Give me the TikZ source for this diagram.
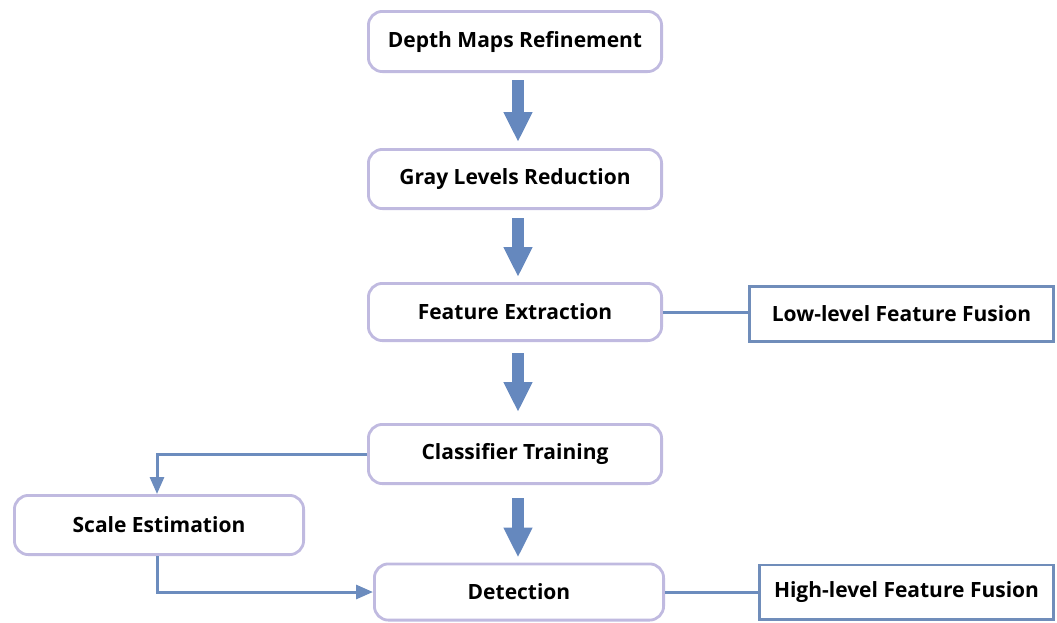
\documentclass[tikz,border=0pt]{standalone}
\usepackage{fontspec}
\setmainfont{Open Sans}
\usetikzlibrary{arrows.meta}

\definecolor{flowblue}{RGB}{101,136,190}
\definecolor{linkblue}{RGB}{108,140,190}
\definecolor{boxlav}{RGB}{192,186,224}
\definecolor{fusionblue}{RGB}{112,141,186}

\tikzset{
  stage/.style={draw=boxlav, line width=2.8pt, rounded corners=14pt, fill=white,
    inner sep=0pt, font=\fontsize{21}{24}\selectfont\bfseries},
  fusion/.style={draw=fusionblue, line width=2.8pt, fill=white,
    inner sep=0pt, font=\fontsize{21}{24}\selectfont\bfseries},
  blockarrow/.style={draw=flowblue, line width=12pt,
    -{Triangle[width=27pt,length=30pt]}},
  link/.style={draw=linkblue, line width=3pt},
  linkarrow/.style={link, -{Triangle[width=14pt,length=17pt]}},
}

\begin{document}
\begin{tikzpicture}[x=1pt,y=-1pt]
\useasboundingbox (0,0) rectangle (1057,622);

% main pipeline
\node[stage, minimum width=293.2pt, minimum height=60.2pt] (dmr) at (515,41.5) {Depth Maps Refinement};
\node[stage, minimum width=293.2pt, minimum height=59.2pt] (glr) at (515,179) {Gray Levels Reduction};
\node[stage, minimum width=293.2pt, minimum height=57.2pt] (fex) at (515,312) {Feature Extraction};
\node[stage, minimum width=293.2pt, minimum height=59.2pt] (clt) at (515,454) {Classifier Training};
\node[stage, minimum width=289.2pt, minimum height=56.2pt] (det) at (519,592) {Detection};

% side boxes
\node[stage, minimum width=289.2pt, minimum height=59.2pt] (sce) at (159,525) {Scale Estimation};
\node[fusion, minimum width=304.2pt, minimum height=55.2pt] (llf) at (901.5,314) {Low-level Feature Fusion};
\node[fusion, minimum width=294.2pt, minimum height=54.2pt] (hlf) at (906.5,592) {High-level Feature Fusion};

% block arrows between stages
\draw[blockarrow, shorten <=7pt, shorten >=6pt] ([xshift=3pt]dmr.south) -- ([xshift=3pt]glr.north);
\draw[blockarrow, shorten <=8pt, shorten >=5pt] ([xshift=3pt]glr.south) -- ([xshift=3pt]fex.north);
\draw[blockarrow, shorten <=11pt, shorten >=11pt] ([xshift=3pt]fex.south) -- ([xshift=3pt]clt.north);
\draw[blockarrow, shorten <=13pt, shorten >=5pt] ([xshift=3pt]clt.south) -- ([xshift=3pt]clt.south |- det.north);

% scale estimation loop
\draw[linkarrow] (clt.west) -| ([xshift=-2pt]sce.north);
\draw[linkarrow] ([xshift=-2pt]sce.south) |- (det.west);

% fusion links
\draw[link] (fex.east) -- (fex.east -| llf.west);
\draw[link] (det.east) -- (det.east -| hlf.west);
\end{tikzpicture}
\end{document}
